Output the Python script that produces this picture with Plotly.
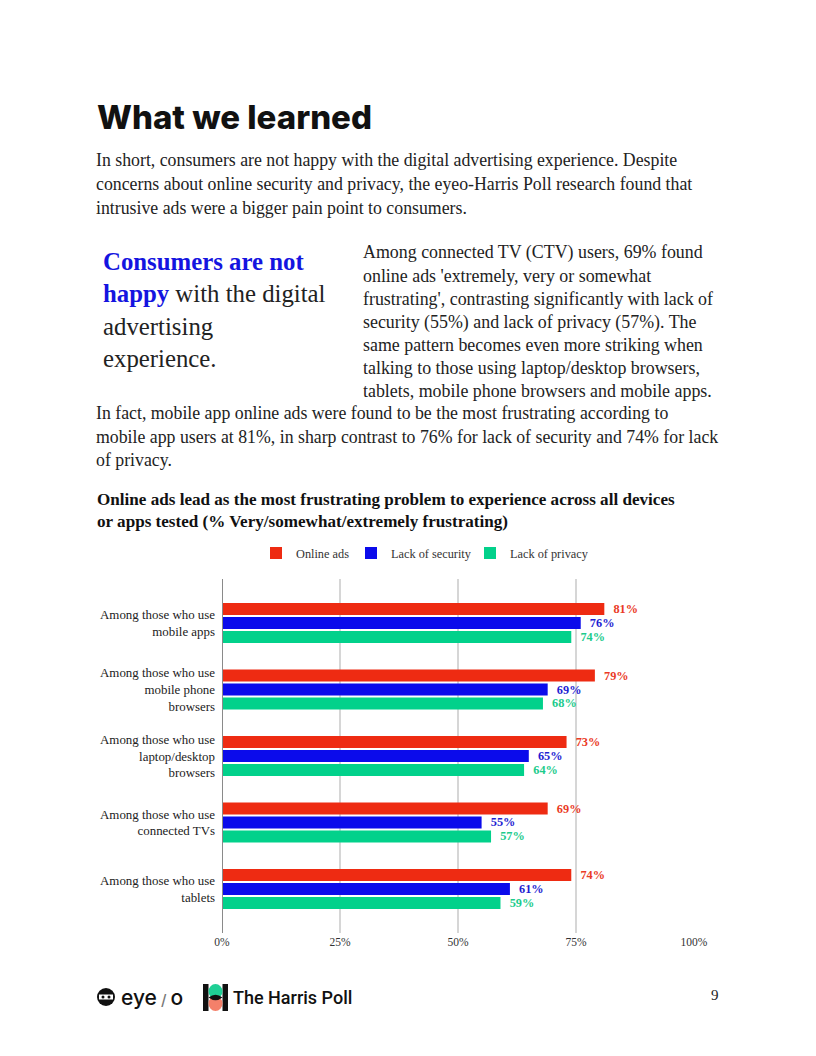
import plotly.graph_objects as go

# ---------------- data ----------------
categories = [
    "Among those who use<br>mobile apps",
    "Among those who use<br>mobile phone<br>browsers",
    "Among those who use<br>laptop/desktop<br>browsers",
    "Among those who use<br>connected TVs",
    "Among those who use<br>tablets",
]
online_ads = [81, 79, 73, 69, 74]
lack_of_security = [76, 69, 65, 55, 61]
lack_of_privacy = [74, 68, 64, 57, 59]
series_names = ["Online ads", "Lack of security", "Lack of privacy"]
x_ticks = [0, 25, 50, 75, 100]
x_tick_labels = ["0%", "25%", "50%", "75%", "100%"]

# ---------------- styling ----------------
W, H = 816, 1056
OFF = 8  # page body margin of the viewer
SERIF = "Liberation Serif, DejaVu Serif, serif"
SANS = "Inter, Roboto, sans-serif"
bar_colors = ["#EE2B12", "#0B0BEB", "#02D18B"]
label_colors = ["#EA3A26", "#1E1ED2", "#1CCB8C"]
legend_widths = [50, 74, 90]

def px(x):
    return (x - OFF) / W

def py(y):
    return 1 - (y - OFF) / H

fig = go.Figure()
all_series = [online_ads, lack_of_security, lack_of_privacy]
for name, vals, c, lc, lw in zip(series_names, all_series, bar_colors, label_colors, legend_widths):
    fig.add_trace(go.Bar(
        y=categories, x=vals, orientation="h", name=name,
        marker=dict(color=c, line=dict(width=0)),
        text=["\u00a0\u00a0" + f"{v}%" for v in vals],
        textposition="outside", cliponaxis=False, constraintext="none",
        textfont=dict(family=SERIF, size=12.3, color=lc, weight="bold"),
        legendwidth=lw,
        hoverinfo="skip",
    ))

a = 0.162
fig.update_layout(
    width=W, height=H, autosize=False,
    margin=dict(l=0, r=0, t=0, b=0, autoexpand=False),
    paper_bgcolor="white", plot_bgcolor="white",
    barmode="group", bargap=0.37, bargroupgap=0.15,
    showlegend=True,
    legend=dict(orientation="h", x=px(256), y=py(553), xanchor="left", yanchor="middle",
                font=dict(family=SERIF, size=12.3, color="#333333"),
                traceorder="normal"),
    xaxis=dict(domain=[px(222), px(694)], range=[0, 100], tickvals=x_ticks,
               ticktext=x_tick_labels, showgrid=True, gridcolor="#D6D6D6", gridwidth=1.5,
               zeroline=False, showline=False, ticks="", fixedrange=True, automargin=False,
               tickfont=dict(family=SERIF, size=11.5, color="#333333")),
    yaxis=dict(domain=[py(933), py(579)], range=[4.5 + a, -0.5 - a],
               showgrid=False, ticks="", ticklabelstandoff=6, automargin=False,
               tickfont=dict(family=SERIF, size=12.9, color="#222222"), fixedrange=True),
)

shapes = []
# 0% axis line
shapes.append(dict(type="line", xref="x", yref="paper", x0=0, x1=0, y0=py(933), y1=py(579),
                   line=dict(color="#8A8A8A", width=2)))
annotations = []

def txt(x, y, s, size, color="#222222", family=SERIF, weight="normal", xanchor="left"):
    annotations.append(dict(xref="paper", yref="paper", x=px(x), y=py(y), text=s,
                            showarrow=False, xanchor=xanchor, yanchor="middle", align="left",
                            font=dict(family=family, size=size, color=color, weight=weight)))

# Heading
txt(95, 117, "What we learned", 33, color="#111111", family=SANS, weight=800)

intro = [
    "In short, consumers are not happy with the digital advertising experience. Despite",
    "concerns about online security and privacy, the eyeo-Harris Poll research found that",
    "intrusive ads were a bigger pain point to consumers.",
]
for i, s in enumerate(intro):
    txt(94, 160 + i * 24, s, 17.8)

quote = [
    "<b><span style='color:#1414E0'>Consumers are not</span></b>",
    "<b><span style='color:#1414E0'>happy</span></b> with the digital",
    "advertising",
    "experience.",
]
for i, s in enumerate(quote):
    txt(101, 261 + i * 32.5, s, 24.8)

right_col = [
    "Among connected TV (CTV) users, 69% found",
    "online ads 'extremely, very or somewhat",
    "frustrating', contrasting significantly with lack of",
    "security (55%) and lack of privacy (57%). The",
    "same pattern becomes even more striking when",
    "talking to those using laptop/desktop browsers,",
    "tablets, mobile phone browsers and mobile apps.",
]
for i, s in enumerate(right_col):
    txt(361, 253 + i * 23, s, 17.9)

after = [
    "In fact, mobile app online ads were found to be the most frustrating according to",
    "mobile app users at 81%, in sharp contrast to 76% for lack of security and 74% for lack",
    "of privacy.",
]
for i, s in enumerate(after):
    txt(94, 413 + i * 23.5, s, 17.8)

# Chart title
txt(95, 500, "<b>Online ads lead as the most frustrating problem to experience across all devices</b>", 17.1, color="#111111")
txt(95, 521, "<b>or apps tested (% Very/somewhat/extremely frustrating)</b>", 17.1, color="#111111")

# Footer: eye/o logo
shapes.append(dict(type="circle", xref="paper", yref="paper",
                   x0=px(97), x1=px(115), y0=py(1006), y1=py(988),
                   fillcolor="#111111", line=dict(width=0)))
shapes.append(dict(type="rect", xref="paper", yref="paper",
                   x0=px(99), x1=px(113), y0=py(999.5), y1=py(994.5),
                   fillcolor="white", line=dict(width=0)))
for cx in (103, 109):
    shapes.append(dict(type="circle", xref="paper", yref="paper",
                       x0=px(cx - 1.5), x1=px(cx + 1.5), y0=py(998.5), y1=py(995.5),
                       fillcolor="#111111", line=dict(width=0)))
txt(119, 997, "eye<span style='color:#777777;font-size:15px'> / </span>o", 21, color="#111111", family=SANS, weight=500)

# Footer: Harris Poll logo
shapes.append(dict(type="rect", xref="paper", yref="paper", x0=px(203), x1=px(208.5),
                   y0=py(1011), y1=py(984), fillcolor="#111111", line=dict(width=0)))
shapes.append(dict(type="rect", xref="paper", yref="paper", x0=px(222.5), x1=px(228),
                   y0=py(1011), y1=py(984), fillcolor="#111111", line=dict(width=0)))
shapes.append(dict(type="circle", xref="paper", yref="paper", x0=px(208.5), x1=px(222.5),
                   y0=py(1011), y1=py(996), fillcolor="#F4806A", line=dict(width=0)))
shapes.append(dict(type="circle", xref="paper", yref="paper", x0=px(208.5), x1=px(222.5),
                   y0=py(999), y1=py(984), fillcolor="#1FCF95", line=dict(width=0)))
shapes.append(dict(type="path", xref="paper", yref="paper",
                   path=f"M {px(208.5)},{py(997.5)} Q {px(215.5)},{py(992)} {px(222.5)},{py(997.5)} Q {px(215.5)},{py(1003)} {px(208.5)},{py(997.5)} Z",
                   fillcolor="#111111", line=dict(width=0)))
txt(231, 997, "The Harris Poll", 18, color="#111111", family="Roboto, Inter, sans-serif", weight=500)

# Page number
txt(715, 995, "9", 15, color="#222222", xanchor="center")

fig.update_layout(shapes=shapes, annotations=annotations)
fig.write_html("out.html", config={"responsive": False})
